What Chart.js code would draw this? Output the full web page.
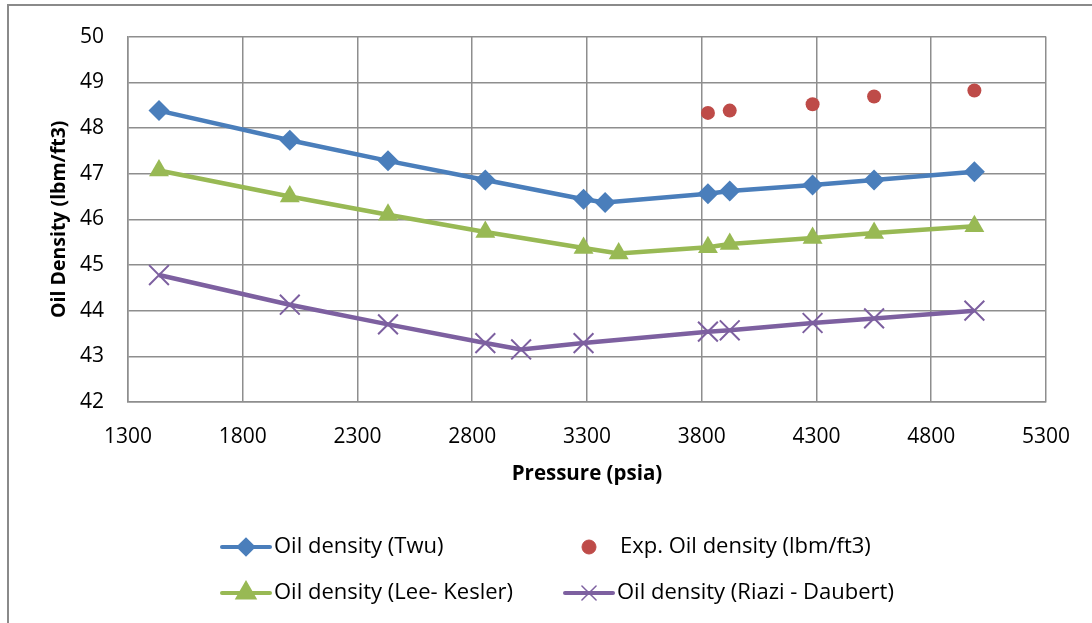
<!DOCTYPE html>
<html>
<head>
<meta charset="utf-8">
<script src="https://cdn.jsdelivr.net/npm/chart.js"></script>
<style>
  html, body { margin: 0; padding: 0; background: #fff; }
  #wrap { position: relative; width: 1092px; height: 623px; }
</style>
</head>
<body>
<div id="wrap"><canvas id="c" width="1092" height="623"></canvas></div>
<script>
// pressures (psia) and densities (lbm/ft3)
var twuP = [1435, 2005, 2433, 2857, 3285, 3379, 3827, 3922, 4283, 4551, 4988];
var twuRho = [48.38, 47.73, 47.28, 46.86, 46.44, 46.37, 46.56, 46.62, 46.75, 46.86, 47.04];
var expP = [3827, 3922, 4283, 4551, 4988];
var expRho = [48.33, 48.38, 48.52, 48.69, 48.82];
var lkP = [1435, 2005, 2433, 2857, 3285, 3438, 3827, 3922, 4283, 4551, 4988];
var lkRho = [47.07, 46.50, 46.10, 45.72, 45.37, 45.25, 45.39, 45.46, 45.59, 45.70, 45.85];
var rdP = [1435, 2005, 2433, 2857, 3013, 3285, 3827, 3922, 4283, 4551, 4988];
var rdRho = [44.78, 44.13, 43.70, 43.29, 43.15, 43.29, 43.54, 43.57, 43.73, 43.83, 44.00];

var seriesNames = ['Oil density (Twu)', 'Exp. Oil density (lbm/ft3)', 'Oil density (Lee- Kesler)', 'Oil density (Riazi - Daubert)'];

function pts(xs, ys){
	var out = [];
	for (var i = 0; i < xs.length; i++) out.push({x: xs[i], y: ys[i]});
	return out;
}

var FONT = '"Open Sans", sans-serif';
var GRID = '#8e8e8e';

// outer box, only left and top edges are inside the picture
var boxPlugin = {
	id: 'box',
	beforeDraw: function(chart){
		var ctx = chart.ctx;
		ctx.save();
		ctx.strokeStyle = '#8a8a8a';
		ctx.lineWidth = 2;
		ctx.beginPath();
		ctx.moveTo(8, 623);
		ctx.lineTo(8, 5);
		ctx.lineTo(1092, 5);
		ctx.stroke();
		ctx.restore();
	}
};

// two column legend like the excel one
var legendPlugin = {
	id: 'gridLegend',
	afterDraw: function(chart){
		var ctx = chart.ctx;
		var cols = [220, 563], rows = [547, 593];
		var symR = [7, 7, 9, 10];
		chart.data.datasets.forEach(function(ds, i){
			var x = cols[i % 2], y = rows[Math.floor(i / 2)];
			ctx.save();
			if (ds.showLine){
				ctx.strokeStyle = ds.borderColor;
				ctx.lineWidth = 4;
				ctx.lineCap = 'round';
				ctx.beginPath();
				ctx.moveTo(x + 2, y);
				ctx.lineTo(x + 50, y);
				ctx.stroke();
			}
			ctx.fillStyle = ds.pointBackgroundColor;
			ctx.strokeStyle = ds.pointBorderColor;
			ctx.lineWidth = ds.pointStyle === 'crossRot' ? 1.5 : 0;
			Chart.helpers.drawPoint(ctx, {pointStyle: ds.pointStyle, radius: symR[i], borderWidth: ctx.lineWidth}, x + 26, y);
			ctx.fillStyle = '#000';
			ctx.font = '22px ' + FONT;
			ctx.textBaseline = 'middle';
			ctx.fillText(ds.label, i === 1 ? x + 57 : x + 54, y);
			ctx.restore();
		});
	}
};

new Chart(document.getElementById('c'), {
	type: 'scatter',
	data: {
		datasets: [
			{
				label: seriesNames[0], data: pts(twuP, twuRho), showLine: true,
				borderColor: '#4a7ebb', borderWidth: 4.5, pointStyle: 'rectRot', pointRadius: 10.5,
				pointBackgroundColor: '#4a7ebb', pointBorderColor: '#4a7ebb', pointBorderWidth: 0
			},
			{
				label: seriesNames[1], data: pts(expP, expRho), showLine: false,
				borderColor: '#be4b48', pointStyle: 'circle', pointRadius: 7,
				pointBackgroundColor: '#be4b48', pointBorderColor: '#be4b48', pointBorderWidth: 0
			},
			{
				label: seriesNames[2], data: pts(lkP, lkRho), showLine: true,
				borderColor: '#98b954', borderWidth: 4.5, pointStyle: 'triangle', pointRadius: 11.5,
				pointBackgroundColor: '#98b954', pointBorderColor: '#98b954', pointBorderWidth: 0
			},
			{
				label: seriesNames[3], data: pts(rdP, rdRho), showLine: true,
				borderColor: '#7d60a0', borderWidth: 4.5, pointStyle: 'crossRot', pointRadius: 14,
				pointBackgroundColor: '#7d60a0', pointBorderColor: '#7d60a0', pointBorderWidth: 2
			}
		]
	},
	options: {
		responsive: false,
		animation: false,
		events: [],
		layout: {padding: {left: 44, top: 34, right: 45, bottom: 133}},
		plugins: {legend: {display: false}, tooltip: {enabled: false}},
		elements: {line: {tension: 0}},
		scales: {
			x: {
				type: 'linear', min: 1300, max: 5300,
				afterFit: function(s){ s.height = 88; },
				ticks: {stepSize: 500, color: '#000', padding: 22, font: {family: FONT, size: 21},
					callback: function(v){ return String(v); }},
				grid: {color: GRID, lineWidth: 1.5, drawTicks: false},
				border: {color: GRID, width: 1.5},
				title: {display: true, text: 'Pressure (psia)', color: '#000', font: {family: FONT, size: 20.5, weight: 'bold'}}
			},
			y: {
				min: 42, max: 50,
				afterFit: function(s){ s.width = 84; },
				ticks: {stepSize: 1, color: '#000', padding: 24, font: {family: FONT, size: 21}},
				grid: {color: GRID, lineWidth: 1.5, drawTicks: false},
				border: {color: GRID, width: 1.5},
				title: {display: true, text: 'Oil Density (lbm/ft3)', color: '#000', font: {family: FONT, size: 19.5, weight: 'bold'}}
			}
		}
	},
	plugins: [boxPlugin, legendPlugin]
});
</script>
</body>
</html>
